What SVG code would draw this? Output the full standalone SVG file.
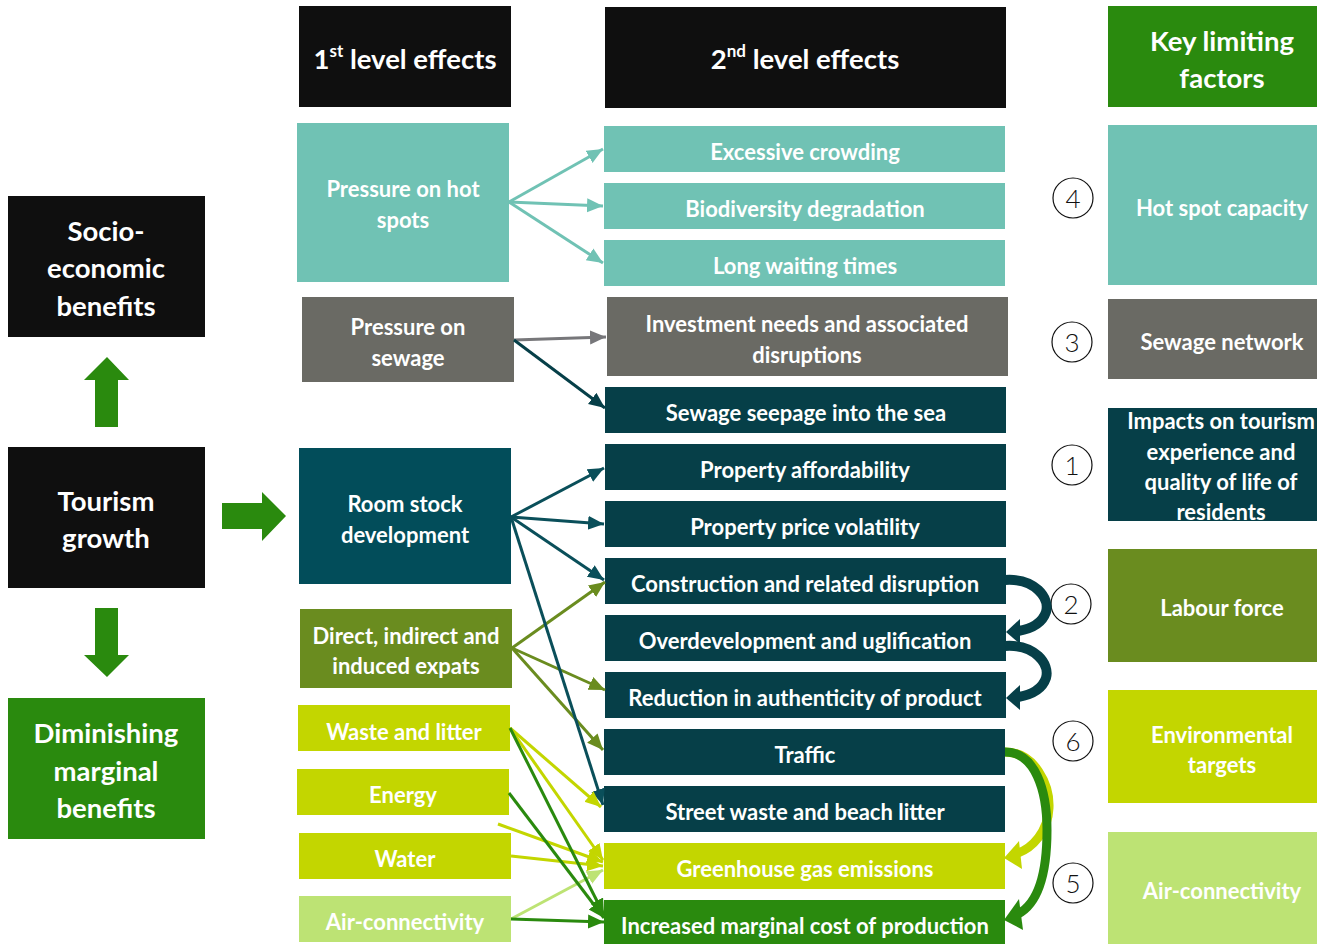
<svg xmlns="http://www.w3.org/2000/svg" width="1317" height="944" viewBox="0 0 1317 944">
<style>
text{font-family:Lato,"Liberation Sans",sans-serif;font-weight:700;fill:#fff;text-anchor:middle;dominant-baseline:central}
.f20{font-size:22px}
.f26{font-size:27.5px}
.num{font-family:Lato,"Open Sans",sans-serif;font-weight:300;font-size:26px;fill:#111}
.blk{fill:#0f0f0f}.teal{fill:#70c2b4}.gray{fill:#6a6a64}.dt{fill:#063f48}.rs{fill:#024d5a}.olive{fill:#6a8c1f}.lime{fill:#c3d600}.llime{fill:#bde374}.green{fill:#2a8a0e}
.ln{fill:none;stroke-width:3}
.circ{fill:#fff;stroke:#111;stroke-width:1.2}
</style>
<defs>
<marker id="mTeal" markerUnits="userSpaceOnUse" markerWidth="18" markerHeight="16" refX="16" refY="7" orient="auto"><path d="M0,0L16,7L0,14z" fill="#70c2b4"/></marker>
<marker id="mGray" markerUnits="userSpaceOnUse" markerWidth="18" markerHeight="16" refX="16" refY="7" orient="auto"><path d="M0,0L16,7L0,14z" fill="#77777a"/></marker>
<marker id="mDt" markerUnits="userSpaceOnUse" markerWidth="18" markerHeight="16" refX="16" refY="7" orient="auto"><path d="M0,0L16,7L0,14z" fill="#063f48"/></marker>
<marker id="mRs" markerUnits="userSpaceOnUse" markerWidth="18" markerHeight="16" refX="16" refY="7" orient="auto"><path d="M0,0L16,7L0,14z" fill="#0a4f5a"/></marker>
<marker id="mOl" markerUnits="userSpaceOnUse" markerWidth="18" markerHeight="16" refX="16" refY="7" orient="auto"><path d="M0,0L16,7L0,14z" fill="#6a8c1f"/></marker>
<marker id="mLi" markerUnits="userSpaceOnUse" markerWidth="18" markerHeight="16" refX="16" refY="7" orient="auto"><path d="M0,0L16,7L0,14z" fill="#c3d600"/></marker>
<marker id="mLl" markerUnits="userSpaceOnUse" markerWidth="18" markerHeight="16" refX="16" refY="7" orient="auto"><path d="M0,0L16,7L0,14z" fill="#bde374"/></marker>
<marker id="mGr" markerUnits="userSpaceOnUse" markerWidth="18" markerHeight="16" refX="16" refY="7" orient="auto"><path d="M0,0L16,7L0,14z" fill="#2a8a0e"/></marker>
</defs>

<!-- Left column -->
<g id="socio"><rect class="blk" x="8" y="196" width="197" height="141"/><text class="f26" x="106" y="230">Socio-</text><text class="f26" x="106" y="267">economic</text><text class="f26" x="106" y="305">benefits</text></g>
<g id="arrow-up"><polygon class="green" points="107,357 129,380 118,380 118,427 95,427 95,380 84,380"/></g>
<g id="tourism"><rect class="blk" x="8" y="447" width="197" height="141"/><text class="f26" x="106" y="500">Tourism</text><text class="f26" x="106" y="537">growth</text></g>
<g id="arrow-right"><polygon class="green" points="222,503 262,503 262,492 286,516 262,541 262,529 222,529"/></g>
<g id="arrow-down"><polygon class="green" points="95,608 118,608 118,655 129,655 107,677 84,655 95,655"/></g>
<g id="diminishing"><rect class="green" x="8" y="698" width="197" height="141"/><text class="f26" x="106" y="732">Diminishing</text><text class="f26" x="106" y="770">marginal</text><text class="f26" x="106" y="807">benefits</text></g>

<!-- 1st level -->
<g id="h1"><rect class="blk" x="299" y="6" width="212" height="101"/><text class="f26" x="405" y="58">1<tspan font-size="17" dy="-8">st</tspan><tspan dy="8"> level effects</tspan></text></g>
<g id="hotspots"><rect class="teal" x="297" y="123" width="212" height="159"/><text class="f20" x="403" y="188">Pressure on hot</text><text class="f20" x="403" y="219">spots</text></g>
<g id="sewage"><rect class="gray" x="302" y="297" width="212" height="85"/><text class="f20" x="408" y="326">Pressure on</text><text class="f20" x="408" y="357">sewage</text></g>
<g id="roomstock"><rect class="rs" x="299" y="448" width="212" height="136"/><text class="f20" x="405" y="503">Room stock</text><text class="f20" x="405" y="534">development</text></g>
<g id="expats"><rect class="olive" x="300" y="609" width="212" height="79"/><text class="f20" x="406" y="635">Direct, indirect and</text><text class="f20" x="406" y="665">induced expats</text></g>
<g id="waste"><rect class="lime" x="298" y="705" width="212" height="46"/><text class="f20" x="404" y="731">Waste and litter</text></g>
<g id="energy"><rect class="lime" x="297" y="769" width="212" height="46"/><text class="f20" x="403" y="794">Energy</text></g>
<g id="water"><rect class="lime" x="299" y="833" width="212" height="46"/><text class="f20" x="405" y="858">Water</text></g>
<g id="air1"><rect class="llime" x="299" y="896" width="212" height="46"/><text class="f20" x="405" y="921">Air-connectivity</text></g>

<!-- 2nd level -->
<g id="h2"><rect class="blk" x="605" y="7" width="401" height="101"/><text class="f26" x="805" y="58">2<tspan font-size="17" dy="-8">nd</tspan><tspan dy="8"> level effects</tspan></text></g>
<g id="crowding"><rect class="teal" x="604" y="126" width="401" height="46"/><text class="f20" x="805" y="151">Excessive crowding</text></g>
<g id="biodiv"><rect class="teal" x="604" y="183" width="401" height="46"/><text class="f20" x="805" y="208">Biodiversity degradation</text></g>
<g id="waiting"><rect class="teal" x="604" y="240" width="401" height="46"/><text class="f20" x="805" y="265">Long waiting times</text></g>
<g id="investment"><rect class="gray" x="607" y="297" width="401" height="79"/><text class="f20" x="807" y="323">Investment needs and associated</text><text class="f20" x="807" y="354">disruptions</text></g>
<g id="seepage"><rect class="dt" x="605" y="387" width="401" height="46"/><text class="f20" x="806" y="412">Sewage seepage into the sea</text></g>
<g id="afford"><rect class="dt" x="605" y="444" width="401" height="46"/><text class="f20" x="805" y="469">Property affordability</text></g>
<g id="volatility"><rect class="dt" x="605" y="501" width="401" height="46"/><text class="f20" x="805" y="526">Property price volatility</text></g>
<g id="construction"><rect class="dt" x="605" y="558" width="401" height="46"/><text class="f20" x="805" y="583">Construction and related disruption</text></g>
<g id="overdev"><rect class="dt" x="605" y="615" width="401" height="46"/><text class="f20" x="805" y="640">Overdevelopment and uglification</text></g>
<g id="authenticity"><rect class="dt" x="605" y="672" width="401" height="46"/><text class="f20" x="805" y="697">Reduction in authenticity of product</text></g>
<g id="traffic"><rect class="dt" x="604" y="729" width="401" height="46"/><text class="f20" x="805" y="754">Traffic</text></g>
<g id="streetwaste"><rect class="dt" x="604" y="786" width="401" height="46"/><text class="f20" x="805" y="811">Street waste and beach litter</text></g>
<g id="ghg"><rect class="lime" x="604" y="843" width="401" height="46"/><text class="f20" x="805" y="868">Greenhouse gas emissions</text></g>
<g id="cost"><rect class="green" x="604" y="900" width="401" height="44"/><text class="f20" x="805" y="925">Increased marginal cost of production</text></g>

<!-- Right column -->
<g id="h3"><rect class="green" x="1108" y="6" width="209" height="101"/><text class="f26" x="1222" y="40">Key limiting</text><text class="f26" x="1222" y="77">factors</text></g>
<g id="hotcap"><rect class="teal" x="1108" y="125" width="209" height="160"/><text class="f20" x="1222" y="207">Hot spot capacity</text></g>
<g id="sewnet"><rect class="gray" x="1108" y="299" width="209" height="80"/><text class="f20" x="1222" y="341">Sewage network</text></g>
<g id="impacts"><rect class="dt" x="1108" y="408" width="209" height="113"/><text class="f20" x="1221" y="420">Impacts on tourism</text><text class="f20" x="1221" y="451">experience and</text><text class="f20" x="1221" y="481">quality of life of</text><text class="f20" x="1221" y="511">residents</text></g>
<g id="labour"><rect class="olive" x="1108" y="549" width="209" height="113"/><text class="f20" x="1222" y="607">Labour force</text></g>
<g id="envtargets"><rect class="lime" x="1108" y="690" width="209" height="113"/><text class="f20" x="1222" y="734">Environmental</text><text class="f20" x="1222" y="764">targets</text></g>
<g id="air2"><rect class="llime" x="1108" y="832" width="209" height="112"/><text class="f20" x="1222" y="890">Air-connectivity</text></g>

<!-- numbered circles -->
<g id="n4"><circle class="circ" cx="1073" cy="198" r="20"/><text class="num" x="1073" y="198">4</text></g>
<g id="n3"><circle class="circ" cx="1072" cy="342" r="20"/><text class="num" x="1072" y="342">3</text></g>
<g id="n1"><circle class="circ" cx="1072" cy="465" r="20"/><text class="num" x="1072" y="465">1</text></g>
<g id="n2"><circle class="circ" cx="1071" cy="604" r="20"/><text class="num" x="1071" y="604">2</text></g>
<g id="n6"><circle class="circ" cx="1073" cy="741" r="20"/><text class="num" x="1073" y="741">6</text></g>
<g id="n5"><circle class="circ" cx="1073" cy="883" r="20"/><text class="num" x="1073" y="883">5</text></g>

<!-- connectors -->
<g id="connectors">
<line class="ln" stroke="#70c2b4" x1="509" y1="202" x2="603" y2="149" marker-end="url(#mTeal)"/>
<line class="ln" stroke="#70c2b4" x1="509" y1="202" x2="603" y2="206" marker-end="url(#mTeal)"/>
<line class="ln" stroke="#70c2b4" x1="509" y1="202" x2="603" y2="263" marker-end="url(#mTeal)"/>
<line class="ln" stroke="#77777a" x1="514" y1="340" x2="606" y2="337" marker-end="url(#mGray)"/>
<line class="ln" stroke="#063f48" x1="514" y1="340" x2="605" y2="408" marker-end="url(#mDt)"/>
<line class="ln" stroke="#0a4f5a" x1="511" y1="517" x2="604" y2="468" marker-end="url(#mRs)"/>
<line class="ln" stroke="#0a4f5a" x1="511" y1="517" x2="604" y2="524" marker-end="url(#mRs)"/>
<line class="ln" stroke="#0a4f5a" x1="511" y1="517" x2="604" y2="580" marker-end="url(#mRs)"/>
<line class="ln" stroke="#6a8c1f" x1="512" y1="648" x2="605" y2="582" marker-end="url(#mOl)"/>
<line class="ln" stroke="#6a8c1f" x1="512" y1="648" x2="605" y2="690" marker-end="url(#mOl)"/>
<line class="ln" stroke="#6a8c1f" x1="512" y1="648" x2="603" y2="750" marker-end="url(#mOl)"/>
<line class="ln" stroke="#0a4f5a" x1="511" y1="517" x2="603" y2="805" marker-end="url(#mRs)"/>
<line class="ln" stroke="#c3d600" x1="510" y1="728" x2="601" y2="807" marker-end="url(#mLi)"/>
<line class="ln" stroke="#c3d600" x1="510" y1="728" x2="603" y2="860" marker-end="url(#mLi)"/>
<line class="ln" stroke="#c3d600" x1="498" y1="824" x2="603" y2="862" marker-end="url(#mLi)"/>
<line class="ln" stroke="#c3d600" x1="511" y1="856" x2="603" y2="866" marker-end="url(#mLi)"/>
<line class="ln" stroke="#bde374" x1="511" y1="919" x2="603" y2="870" marker-end="url(#mLl)"/>
<line class="ln" stroke="#2a8a0e" x1="510" y1="728" x2="604" y2="915" marker-end="url(#mGr)"/>
<line class="ln" stroke="#2a8a0e" x1="509" y1="793" x2="604" y2="918" marker-end="url(#mGr)"/>
<line class="ln" stroke="#2a8a0e" x1="511" y1="919" x2="604" y2="922" marker-end="url(#mGr)"/>

<!-- curved arrows -->
<path d="M1005,580 C1035,578 1050,598 1046,612 C1042,624 1030,629 1018,631" fill="none" stroke="#063f48" stroke-width="10"/>
<polygon points="1006,632 1020,619 1020,644" fill="#063f48"/>
<path d="M1005,646 C1035,644 1050,664 1046,678 C1042,690 1030,695 1018,697" fill="none" stroke="#063f48" stroke-width="10"/>
<polygon points="1006,698 1020,685 1020,710" fill="#063f48"/>
<path d="M1005,752 C1035,752 1050,785 1049,808 C1048,832 1032,848 1018,853" fill="none" stroke="#c3d600" stroke-width="9"/>
<polygon points="1004,858 1019,841 1022,869" fill="#c3d600"/>
<path d="M1005,752 C1035,752 1047,790 1047,830 C1047,880 1035,905 1018,914" fill="none" stroke="#2a8a0e" stroke-width="9"/>
<polygon points="1004,920 1019,899 1023,930" fill="#2a8a0e"/>
</g>
</svg>
